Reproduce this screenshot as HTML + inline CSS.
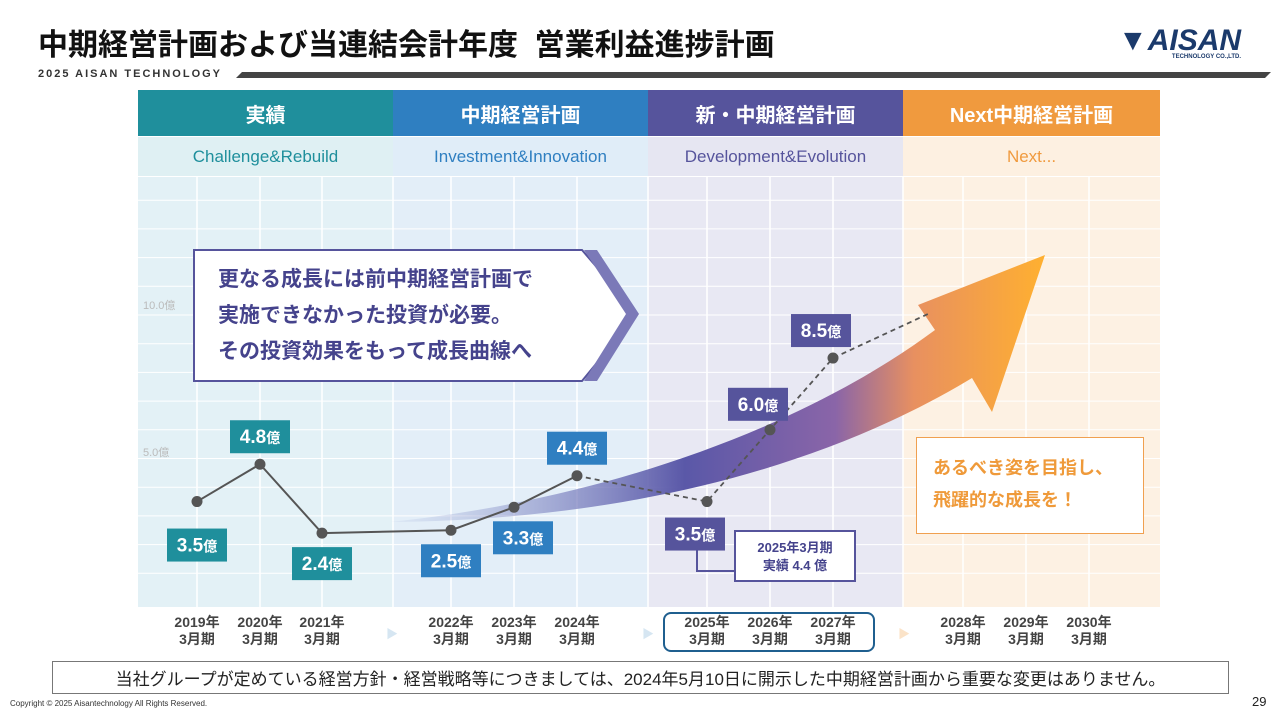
<!DOCTYPE html>
<html><head><meta charset="utf-8">
<style>
body{margin:0;width:1280px;height:720px;background:#fff;font-family:"Liberation Sans","Noto Sans CJK JP",sans-serif;position:relative;overflow:hidden}
.abs{position:absolute}
.hd{position:absolute;top:90px;height:46px;color:#fff;font-weight:bold;font-size:20px;display:flex;align-items:center;justify-content:center}
.sub{position:absolute;top:137px;height:39px;font-size:17px;display:flex;align-items:center;justify-content:center}
.yr{position:absolute;top:614px;width:60px;text-align:center;font-size:14px;font-weight:bold;color:#444;line-height:17px}
</style></head><body>
<div class="abs" style="left:38px;top:20px;font-size:30px;font-weight:bold;color:#111">中期経営計画および当連結会計年度&nbsp; 営業利益進捗計画</div>
<div class="abs" style="left:38px;top:68px;font-size:11px;font-weight:bold;letter-spacing:2px;color:#333">2025 AISAN TECHNOLOGY</div>
<svg class="abs" style="left:236px;top:70px" width="1035" height="10"><polygon points="6,2 1035,2 1029,8 0,8" fill="#444"/></svg>
<div class="abs" style="left:1118px;top:24px;font-size:30px;font-weight:bold;font-style:italic;color:#1b3a6b">▼AISAN<div style="font-size:6px;font-style:normal;text-align:right;margin-top:-4px">TECHNOLOGY CO.,LTD.</div></div>

<div class="hd" style="left:138px;width:255px;background:#1f8f9c">実績</div>
<div class="hd" style="left:393px;width:255px;background:#2f7fc1">中期経営計画</div>
<div class="hd" style="left:648px;width:255px;background:#56549c">新・中期経営計画</div>
<div class="hd" style="left:903px;width:257px;background:#f09a3e">Next中期経営計画</div>
<div class="sub" style="left:138px;width:255px;background:#dff0f3;color:#1f8f9c">Challenge&amp;Rebuild</div>
<div class="sub" style="left:393px;width:255px;background:#e0edf8;color:#2f7fc1">Investment&amp;Innovation</div>
<div class="sub" style="left:648px;width:255px;background:#e6e6f2;color:#56549c">Development&amp;Evolution</div>
<div class="sub" style="left:903px;width:257px;background:#fdf0e1;color:#f09a3e">Next...</div>

<svg class="abs" id="chart" style="left:0;top:0" width="1280" height="720">
<defs>
<linearGradient id="ar" x1="0" y1="0" x2="1" y2="0">
<stop offset="0" stop-color="#9aa8d6" stop-opacity="0.1"/><stop offset="0.45" stop-color="#5a58a8"/><stop offset="0.68" stop-color="#8a65a8"/><stop offset="0.8" stop-color="#e89060"/><stop offset="1" stop-color="#ffb030"/></linearGradient>
</defs>
<rect x="138" y="177" width="255" height="430" fill="#e3f1f6"/>
<rect x="393" y="177" width="255" height="430" fill="#e3eef8"/>
<rect x="648" y="177" width="255" height="430" fill="#e8e8f3"/>
<rect x="903" y="177" width="257" height="430" fill="#fdf1e3"/>
<g id="grid"></g>
<text x="143" y="309" font-size="11" fill="#bbb">10.0億</text>
<text x="143" y="456" font-size="11" fill="#bbb">5.0億</text>
<path d="M390,522 C600,500 800,430 935,330 L918,305 L1045,255 L992,412 L972,378 C820,470 620,520 390,522 Z" fill="url(#ar)"/>
<g id="lines"></g>
<g id="labels"></g>
</svg>

<svg class="abs" style="left:192px;top:248px" width="450" height="135">
<polygon points="2,2 390,2 445,66 390,133 2,133" fill="#fff" stroke="#56549c" stroke-width="2"/>
<polygon points="392,2 405,2 447,66 405,133 392,133 434,66" fill="#7b79b8"/>
</svg>
<div class="abs" style="left:218px;top:262px;font-size:21px;font-weight:bold;color:#45438c;line-height:36px">更なる成長には前中期経営計画で<br>実施できなかった投資が必要。<br>その投資効果をもって成長曲線へ</div>

<div class="abs" style="left:916px;top:437px;width:228px;height:97px;border:1.5px solid #f0a050;background:#fff;box-sizing:border-box;padding:14px 0 0 16px;font-size:18px;font-weight:bold;color:#ef9a3a;line-height:32px">あるべき姿を目指し、<br>飛躍的な成長を！</div>

<svg class="abs" style="left:690px;top:548px" width="50" height="30"><path d="M7,0 V23 H45" fill="none" stroke="#56549c" stroke-width="2"/></svg>
<div class="abs" style="left:734px;top:530px;width:122px;height:52px;border:2px solid #56549c;background:#fff;box-sizing:border-box;text-align:center;font-size:13px;font-weight:bold;color:#45438c;line-height:18px;padding-top:7px">2025年3月期<br>実績 4.4 億</div>

<div class="abs" style="left:663px;top:612px;width:212px;height:40px;border:2px solid #1f5f8f;border-radius:8px;box-sizing:border-box"></div>
<div id="years"></div>
<div class="abs" style="left:386px;top:625px;color:#d6e6f2;font-size:12px">▶</div>
<div class="abs" style="left:642px;top:625px;color:#d6e6f2;font-size:12px">▶</div>
<div class="abs" style="left:898px;top:625px;color:#fbe3c8;font-size:12px">▶</div>

<div class="abs" style="left:52px;top:661px;width:1177px;height:33px;border:1px solid #777;box-sizing:border-box;font-size:17px;color:#222;display:flex;align-items:center;justify-content:center">当社グループが定めている経営方針・経営戦略等につきましては、2024年5月10日に開示した中期経営計画から重要な変更はありません。</div>
<div class="abs" style="left:10px;top:699px;font-size:8px;color:#333">Copyright © 2025 Aisantechnology All Rights Reserved.</div>
<div class="abs" style="left:1252px;top:694px;font-size:13px;color:#222">29</div>

<script>
const years=["2019年","2020年","2021年","2022年","2023年","2024年","2025年","2026年","2027年","2028年","2029年","2030年"];
const values=[3.5,4.8,2.4,2.5,3.3,4.4,3.5,6.0,8.5];
const labelText=["3.5","4.8","2.4","2.5","3.3","4.4","3.5","6.0","8.5"];
const labelSide=[1,-1,1,1,1,-1,1,-1,-1];
const colX=[197,260,322,451,514,577,707,770,833,963,1026,1089];
const NS="http://www.w3.org/2000/svg";
const yS=v=>602-v*28.7;
const xS=i=>colX[i];
function mk(t,a,p){const e=document.createElementNS(NS,t);for(const k in a)e.setAttribute(k,a[k]);p.appendChild(e);return e;}
const grid=document.getElementById('grid');
for(let v=1;v<=14;v++){const y=yS(v);if(y<180)break;const l=mk('line',{x1:138,x2:1160,y1:y,y2:y,stroke:'#fff','stroke-width':1},grid);}
[...colX,393,648,903].forEach(x=>{const l=mk('line',{x1:x,x2:x,y1:177,y2:607,stroke:'#fff','stroke-width':1.5},grid);});
const lines=document.getElementById('lines');
let solid="",dash="";
values.forEach((v,i)=>{if(i<=5)solid+=(i?"L":"M")+xS(i)+","+yS(v);if(i>=5)dash+=(i>5?"L":"M")+xS(i)+","+yS(v);});
dash+="L930,"+(yS(values[8])-45);
const s=mk('path',{d:solid,fill:'none',stroke:'#555','stroke-width':2},lines);

const d=mk('path',{d:dash,fill:'none',stroke:'#555','stroke-width':1.8,'stroke-dasharray':'5,4'},lines);

const labels=document.getElementById('labels');
values.forEach((v,i)=>{
 const c=mk('circle',{cx:xS(i),cy:yS(v),r:5.5,fill:'#555'},lines);
 
 const col=i<3?'#1f8f9c':i<6?'#2f7fc1':'#56549c';
 const dx=[0,0,0,0,9,0,-12,-12,-12][i];
 const cy=labelSide[i]>0?yS(v)+(i==0?43:i==6?32:30):yS(v)-(i==7?26:28);
 const x=xS(i)+dx-30;
 const g=mk('g',{},labels);
 
 mk('rect',{x:x,y:cy-16,width:60,height:33,fill:col},g);
 const t=mk('text',{x:x+30,y:cy+7,'text-anchor':'middle',fill:'#fff','font-weight':'bold','font-size':19},g);
 t.textContent=labelText[i];
 const t2=mk('tspan',{'font-size':14},t);t2.textContent='億';
});
const yd=document.getElementById('years');
years.forEach((y,i)=>{const e=document.createElement('div');e.className='yr';e.style.left=(colX[i]-30)+'px';e.innerHTML=y+'<br>3月期';


yd.appendChild(e);});
</script>
</body></html>
